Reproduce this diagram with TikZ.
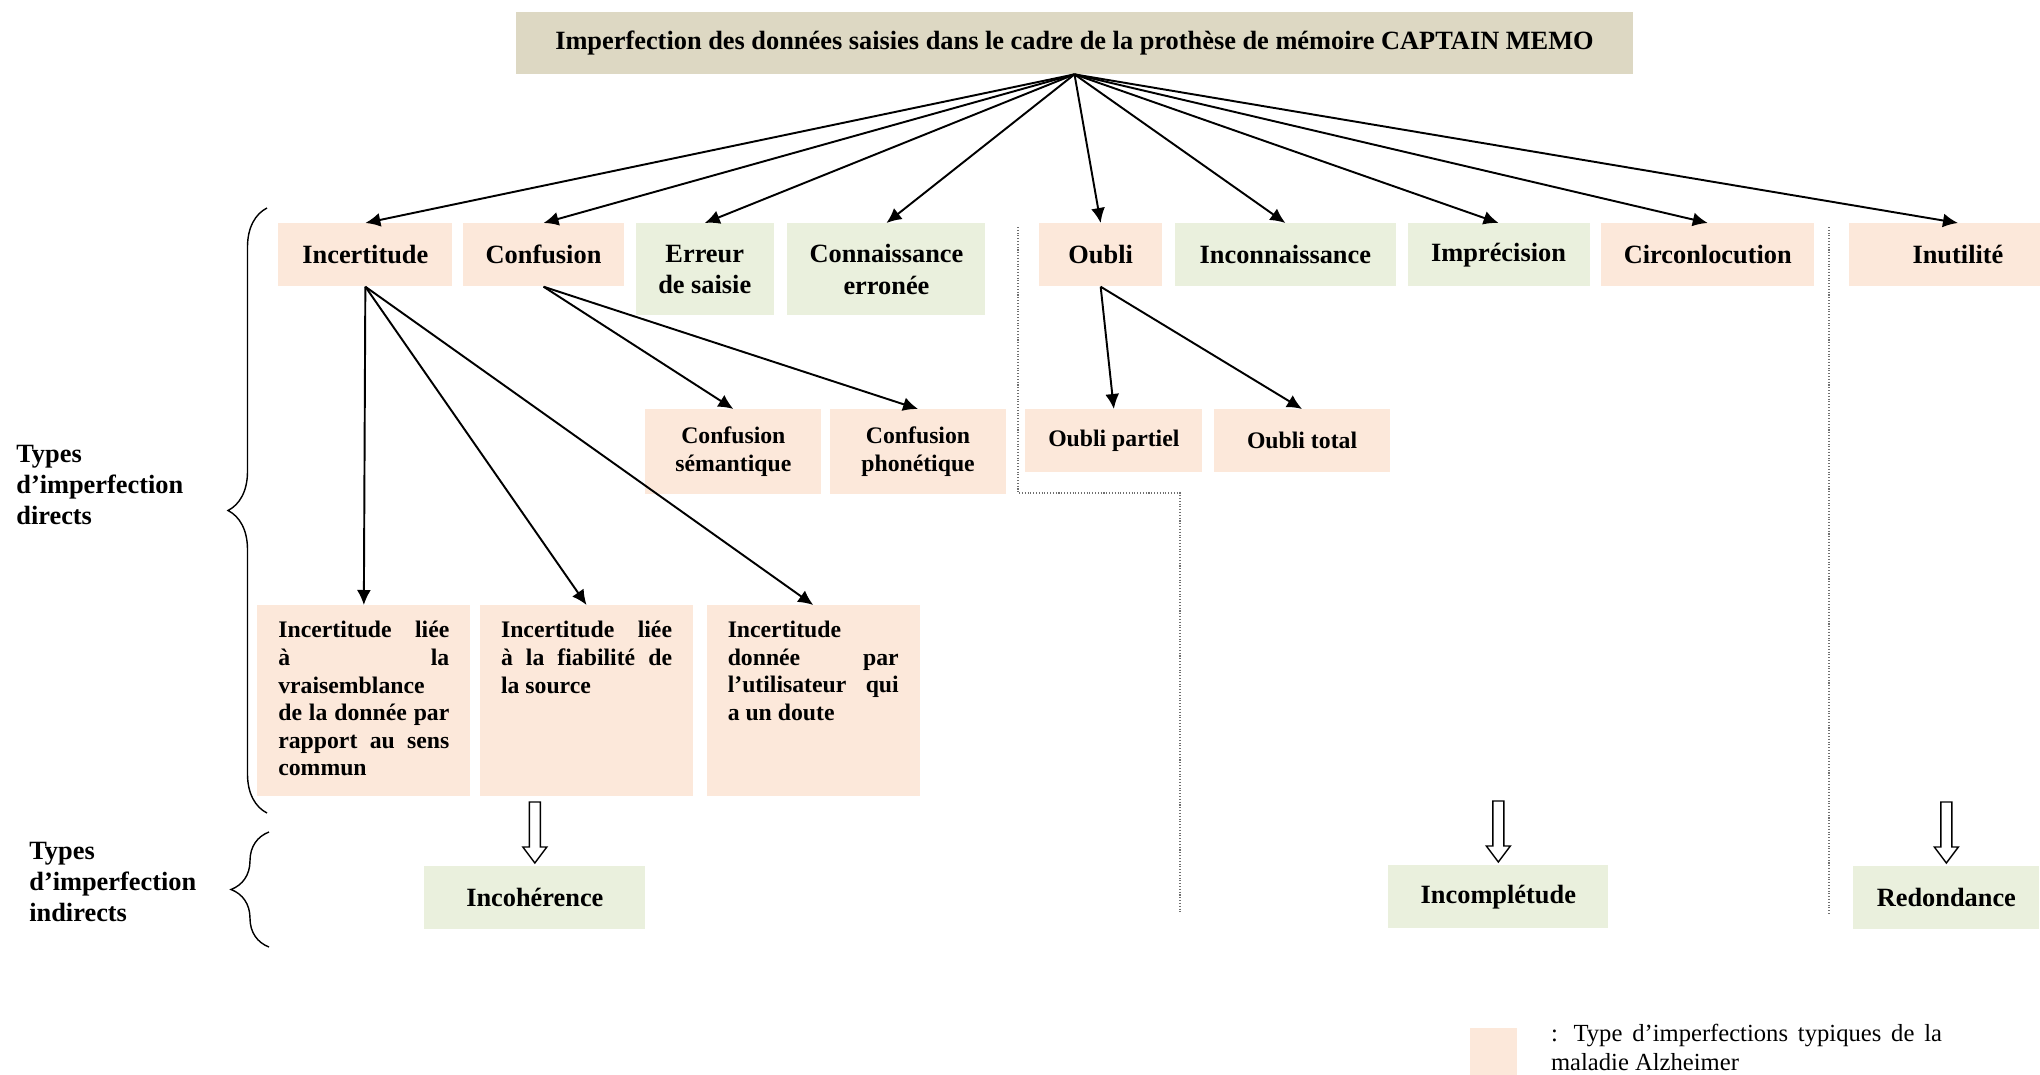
\documentclass[tikz,border=0pt]{standalone}
\usepackage{fontspec}
\setmainfont{Liberation Serif}
\usepackage{tikz}
\usetikzlibrary{positioning, arrows.meta, calc, shapes, decorations.pathreplacing}
\definecolor{peachFill}{HTML}{FCE8DA}
\definecolor{greenFill}{HTML}{EAF0DD}
\definecolor{titleFill}{HTML}{DDD8C3}
\definecolor{sepGray}{HTML}{707070}
\tikzstyle{bigbox} =[inner sep=0pt, align=center, font=\fontsize{15}{18}\selectfont\bfseries, minimum height=1.26cm]
\tikzstyle{smallbox} =[inner sep=0pt, align=center, font=\fontsize{13.5}{16}\selectfont\bfseries, minimum height=1.26cm]
\tikzstyle{textbox} =[fill=peachFill, inner xsep=0.42cm, inner ysep=0.32cm, font=\fontsize{13.5}{15.7}\selectfont\bfseries, minimum width=4.26cm, minimum height=3.82cm]
\tikzstyle{sidetitle} =[align=left, inner sep=0pt, font=\fontsize{15}{17.6}\selectfont\bfseries, anchor=west]
\tikzstyle{link} =[-{Latex[length=0.3cm, width=0.28cm]}, line width=1.1pt, black]
% hollow down arrow ending just above a node
\newcommand{\hollowDown}[1]{\draw[line width=0.8pt, fill=white] ($(#1.north)+(0,0.06)$) -- ++(0.24,0.32) -- ++(-0.13,0) -- ++(0,0.9) -- ++(-0.22,0) -- ++(0,-0.9) -- ++(-0.13,0) -- cycle;}
\hyphenpenalty=10000
\tolerance=10000

\begin{document}
\begin{tikzpicture}
\useasboundingbox (0,0) rectangle (40.8,-21.5);

\node (title) [bigbox, fill=titleFill, minimum width=22.34cm, minimum height=1.24cm] at (21.49,-0.86) {Imperfection des données saisies dans le cadre de la prothèse de mémoire CAPTAIN MEMO};

\node (incert) [bigbox, fill=peachFill, minimum width=3.48cm, anchor=north west] at (5.56,-4.46) {Incertitude};
\node (confu) [bigbox, fill=peachFill, minimum width=3.22cm, right=0.2cm of incert.north east, anchor=north west] {Confusion};
\node (erreur) [bigbox, fill=greenFill, minimum width=2.76cm, minimum height=1.84cm, right=0.22cm of confu.north east, anchor=north west] {Erreur\\de saisie};
\node (connais) [bigbox, fill=greenFill, minimum width=3.96cm, minimum height=1.84cm, right=0.26cm of erreur.north east, anchor=north west] {Connaissance\\erronée};
\node (oubli) [bigbox, fill=peachFill, minimum width=2.46cm, right=1.06cm of connais.north east, anchor=north west] {Oubli};
\node (inconnais) [bigbox, fill=greenFill, minimum width=4.42cm, right=0.24cm of oubli.north east, anchor=north west] {Inconnaissance};
\node (imprec) [bigbox, fill=greenFill, minimum width=3.64cm, right=0.22cm of inconnais.north east, anchor=north west] {Imprécision};
\node (circon) [bigbox, fill=peachFill, minimum width=4.26cm, right=0.22cm of imprec.north east, anchor=north west] {Circonlocution};
\node (inutil) [bigbox, fill=peachFill, minimum width=4.36cm, right=0.68cm of circon.north east, anchor=north west] {Inutilité};

\node (confSem) [smallbox, fill=peachFill, minimum width=3.52cm, minimum height=1.70cm, anchor=north west] at (12.9,-8.18) {Confusion\\sémantique};
\node (confPhon) [smallbox, fill=peachFill, minimum width=3.52cm, minimum height=1.70cm, right=0.16cm of confSem.north east, anchor=north west] {Confusion\\phonétique};
\node (oubliPart) [smallbox, fill=peachFill, minimum width=3.54cm, anchor=north west] at (20.5,-8.18) {Oubli partiel};
\node (oubliTot) [smallbox, fill=peachFill, minimum width=3.52cm, right=0.22cm of oubliPart.north east, anchor=north west] {Oubli total};

\node (incVrai) [textbox, anchor=north west] at (5.14,-12.1) {\parbox[t][3.18cm][t]{3.42cm}{Incertitude liée \linebreak à la \linebreak vraisemblance \linebreak de la donnée par \linebreak rapport au sens \linebreak commun}};
\node (incSource) [textbox, right=0.18cm of incVrai.north east, anchor=north west] {\parbox[t][3.18cm][t]{3.42cm}{Incertitude liée \linebreak à la fiabilité de \linebreak la source}};
\node (incUser) [textbox, right=0.26cm of incSource.north east, anchor=north west] {\parbox[t][3.18cm][t]{3.42cm}{Incertitude \linebreak donnée par \linebreak l’utilisateur qui \linebreak a un doute}};

\node (incoh) [bigbox, fill=greenFill, minimum width=4.42cm, anchor=north west] at (8.48,-17.32) {Incohérence};
\node (incompl) [bigbox, fill=greenFill, minimum width=4.40cm, anchor=north west] at (27.76,-17.30) {Incomplétude};
\node (redond) [bigbox, fill=greenFill, minimum width=3.72cm, anchor=north west] at (37.06,-17.32) {Redondance};

\hollowDown{incoh}
\hollowDown{incompl}
\hollowDown{redond}

\node (directTitle) [sidetitle] at (0.32,-9.70) {Types\\d’imperfection\\directs};
\node (indirectTitle) [sidetitle] at (0.58,-17.64) {Types\\d’imperfection\\indirects};

\draw[link] (title.south) -- (incert.north);
\draw[link] (title.south) -- (confu.north);
\draw[link] (title.south) -- (erreur.north);
\draw[link] (title.south) -- (connais.north);
\draw[link] (title.south) -- (oubli.north);
\draw[link] (title.south) -- (inconnais.north);
\draw[link] (title.south) -- (imprec.north);
\draw[link] (title.south) -- (circon.north);
\draw[link] (title.south) -- (inutil.north);

\draw[link] (incert.south) -- (incVrai.north);
\draw[link] (incert.south) -- (incSource.north);
\draw[link] (incert.south) -- (incUser.north);
\draw[link] (confu.south) -- (confSem.north);
\draw[link] (confu.south) -- (confPhon.north);
\draw[link] (oubli.south) -- (oubliPart.north);
\draw[link] (oubli.south) -- (oubliTot.north);

%separators
\draw[densely dotted, sepGray, line width=0.6pt] (20.36,-4.54) -- (20.36,-9.86) -- (23.6,-9.86) -- (23.6,-18.24);
\draw[densely dotted, sepGray, line width=0.6pt] (36.58,-4.54) -- (36.58,-18.30);

%braces
\coordinate (directTop) at (5.34,-4.16);
\coordinate (directBot) at (5.34,-16.26);
\draw[decoration={brace, amplitude=0.78cm}, decorate, line width=0.8pt]
	(directBot) -- (directTop);
\coordinate (indirectTop) at (5.38,-16.64);
\coordinate (indirectBot) at (5.38,-18.94);
\draw[decoration={brace, amplitude=0.76cm}, decorate, line width=0.8pt]
	(indirectBot) -- (indirectTop);

\node (legendSwatch) [fill=peachFill, minimum width=0.94cm, minimum height=0.94cm, inner sep=0pt, anchor=north west] at (29.4,-20.56) {};
\node (legendText) [text width=7.82cm, align=justify, inner sep=0pt, font=\fontsize{14}{16.2}\selectfont, right=0.66cm of legendSwatch.north east, anchor=north west, yshift=0.08cm] {: Type d’imperfections typiques de la \linebreak maladie Alzheimer};
\end{tikzpicture}
\end{document}
